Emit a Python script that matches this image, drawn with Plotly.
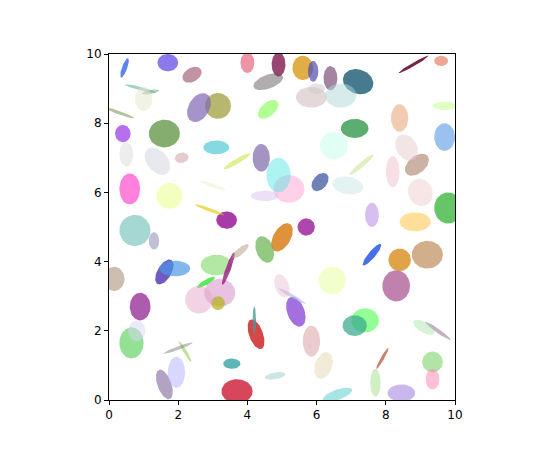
import numpy as np
import plotly.graph_objects as go

# ellipse centres, sizes (data units), angles (deg), colours (r, g, b, alpha)
cx = [9.8, 0.75, 7.2, 3.7, 5.0, 3.4, 5.7, 1.6, 0.6, 1.75, 1.6, 1.9, 3.1, 3.2, 0.9,
      0.65, 7.4, 7.1, 5.4, 8.3, 8.4, 9.2, 8.85, 4.5, 5.2, 4.9, 4.4, 3.1, 3.15, 2.6,
      7.1, 8.4, 9.7, 0.4, 5.85, 4.6, 4.9, 5.6, 6.4, 1.7, 4.0, 4.6, 9.35, 4.25, 3.55,
      8.45, 1.6, 1.95, 7.6, 7.6, 6.45, 5.85, 3.45, 2.8, 3.15, 2.6, 9.35, 6.6, 0.15,
      9.7, 0.45, 8.8, 9.6, 6.7, 6.5, 2.9, 1.2, 5.3, 8.9, 2.2, 0.9, 6.1, 3.7, 9.5,
      1.4, 4.2, 7.9, 2.1, 5.9, 0.3,
      1.0, 2.4, 4.5, 5.0, 6.9, 8.6, 9.1, 7.7, 3.8, 0.5, 2.0, 6.2, 8.2, 4.8, 1.3,
      3.0, 6.0, 9.0, 7.3, 0.8]
cy = [5.55, 4.9, 9.2, 0.25, 4.7, 5.2, 5.0, 7.7, 6.1, 5.9, 3.7, 3.8, 3.9, 3.1, 2.7,
      1.65, 2.3, 2.15, 2.55, 3.3, 4.05, 4.2, 5.15, 4.35, 6.1, 6.5, 7.0, 7.3, 8.5, 8.45,
      7.85, 8.15, 7.6, 7.7, 8.75, 8.4, 9.7, 9.6, 9.3, 9.75, 9.75, 9.2, 1.1, 1.9, 1.05,
      0.2, 0.45, 0.8, 4.2, 5.35, 3.45, 1.7, 3.8, 3.4, 2.8, 2.9, 0.6, 0.15, 3.5,
      8.5, 9.6, 9.7, 9.8, 8.8, 7.35, 5.5, 8.9, 3.0, 6.8, 1.4, 9.0, 6.3, 6.9, 2.0,
      6.9, 2.3, 1.2, 7.0, 9.5, 8.3,
      8.7, 9.4, 5.9, 3.3, 6.2, 7.3, 2.1, 0.5, 4.3, 7.1, 1.5, 1.0, 6.6, 0.7, 4.6,
      6.2, 9.0, 6.0, 6.8, 2.0]
w = [0.8, 0.9, 0.9, 0.9, 0.5, 0.6, 0.5, 0.9, 0.6, 0.75, 0.4, 0.9, 0.9, 0.9, 0.6,
     0.7, 0.8, 0.7, 0.5, 0.8, 0.65, 0.9, 0.9, 0.5, 0.9, 0.7, 0.5, 0.75, 0.75, 0.6,
     0.8, 0.5, 0.6, 0.45, 0.9, 0.7, 0.4, 0.6, 0.4, 0.6, 0.4, 0.9, 0.6, 0.4, 0.5,
     0.8, 0.4, 0.5, 0.2, 0.4, 0.8, 0.5, 0.15, 0.6, 0.4, 0.8, 0.4, 0.9, 0.6,
     0.7, 0.15, 1.0, 0.4, 0.9, 0.8, 0.9, 0.5, 0.9, 0.8, 0.7, 0.9, 0.6, 0.9, 0.9,
     0.9, 0.1, 0.7, 0.4, 0.3, 0.9,
     0.5, 0.6, 0.8, 0.4, 0.9, 0.6, 0.7, 0.3, 0.6, 0.4, 0.9, 0.5, 0.4, 0.6, 0.3,
     0.8, 0.5, 0.7, 0.9, 0.5]
h = [0.9, 0.9, 0.7, 0.7, 0.9, 0.5, 0.5, 0.8, 0.9, 0.75, 0.8, 0.45, 0.6, 0.8, 0.8,
     0.9, 0.7, 0.6, 0.9, 0.9, 0.65, 0.8, 0.55, 0.8, 0.8, 1.0, 0.8, 0.4, 0.75, 0.9,
     0.55, 0.8, 0.8, 0.5, 0.6, 0.4, 0.7, 0.7, 0.7, 0.5, 0.6, 0.4, 0.6, 0.9, 0.3,
     0.5, 0.9, 0.9, 0.8, 0.7, 0.8, 0.9, 1.0, 0.15, 0.4, 0.8, 0.6, 0.3, 0.7,
     0.25, 0.6, 0.1, 0.3, 0.7, 0.8, 0.1, 0.12, 0.1, 0.5, 0.1, 0.1, 0.4, 0.15, 0.12,
     0.6, 0.8, 0.1, 0.3, 0.6, 0.1,
     0.7, 0.4, 0.3, 0.7, 0.5, 0.8, 0.3, 0.8, 0.2, 0.7, 0.1, 0.8, 0.9, 0.2, 0.5,
     0.1, 0.3, 0.8, 0.15, 0.6]
angle = [0, 0, -20, 0, -30, 0, 0, 0, 0, 0, -30, 0, 0, 0, 0,
         0, 0, 0, 20, 0, 0, 0, 0, 20, 0, 0, 0, 0, 0, -30,
         0, 0, 0, 0, 0, 40, 0, 0, 0, 0, 0, 20, 0, 20, 0,
         0, 20, 0, -40, 0, 0, 0, -20, 30, 0, 0, 0, 20, 0,
         0, -20, 30, 0, 0, 0, -20, 10, -30, 40, -60, -15, 50, 30, -35,
         -50, 0, 60, 10, 0, -20,
         0, 30, 0, 20, -10, 30, -30, 0, 40, 0, 20, -20, 0, 10, 0,
         -20, 0, 20, 40, 0]
colors = [
    (0.2, 0.7, 0.2, 0.75), (0.3, 0.7, 0.65, 0.5), (0.1, 0.35, 0.45, 0.8), (0.8, 0.1, 0.2, 0.8),
    (0.85, 0.5, 0.1, 0.85), (0.6, 0.1, 0.6, 0.85), (0.6, 0.1, 0.6, 0.8), (0.4, 0.6, 0.3, 0.8),
    (1.0, 0.3, 0.8, 0.7), (0.9, 1.0, 0.5, 0.5), (0.3, 0.2, 0.7, 0.8), (0.3, 0.6, 0.9, 0.7),
    (0.5, 0.85, 0.4, 0.6), (0.85, 0.6, 0.8, 0.6), (0.6, 0.2, 0.6, 0.8), (0.3, 0.8, 0.3, 0.6),
    (0.3, 1.0, 0.3, 0.6), (0.2, 0.65, 0.55, 0.7), (0.55, 0.3, 0.85, 0.8), (0.65, 0.3, 0.55, 0.7),
    (0.85, 0.55, 0.1, 0.8), (0.75, 0.55, 0.35, 0.7), (1.0, 0.75, 0.2, 0.5), (0.4, 0.7, 0.3, 0.7),
    (1.0, 0.6, 0.8, 0.45), (0.3, 0.9, 0.9, 0.45), (0.4, 0.3, 0.6, 0.6), (0.2, 0.75, 0.8, 0.6),
    (0.6, 0.6, 0.2, 0.7), (0.5, 0.4, 0.7, 0.7), (0.2, 0.6, 0.3, 0.8), (0.9, 0.6, 0.4, 0.5),
    (0.35, 0.6, 0.9, 0.6), (0.6, 0.2, 0.9, 0.7), (0.8, 0.7, 0.7, 0.5), (0.5, 1.0, 0.3, 0.6),
    (0.5, 0.1, 0.3, 0.8), (0.85, 0.6, 0.1, 0.8), (0.4, 0.2, 0.4, 0.6), (0.4, 0.3, 0.9, 0.75),
    (0.9, 0.4, 0.5, 0.7), (0.4, 0.35, 0.35, 0.5), (0.4, 0.8, 0.3, 0.5), (0.8, 0.1, 0.1, 0.8),
    (0.1, 0.6, 0.6, 0.7), (0.7, 0.6, 0.9, 0.7), (0.5, 0.4, 0.6, 0.6), (0.7, 0.7, 1.0, 0.5),
    (0.1, 0.3, 0.9, 0.8), (0.7, 0.5, 0.9, 0.5), (0.9, 1.0, 0.6, 0.5), (0.8, 0.5, 0.5, 0.4),
    (0.6, 0.1, 0.5, 0.8), (0.2, 0.9, 0.2, 0.8), (0.7, 0.7, 0.1, 0.7), (0.9, 0.65, 0.8, 0.5),
    (1.0, 0.5, 0.7, 0.5), (0.3, 0.8, 0.8, 0.5), (0.6, 0.5, 0.4, 0.5), (0.8, 1.0, 0.6, 0.6),
    (0.2, 0.4, 0.9, 0.8), (0.4, 0.05, 0.2, 0.9), (0.9, 0.5, 0.4, 0.7), (0.7, 0.85, 0.85, 0.5),
    (0.7, 1.0, 0.9, 0.4), (0.9, 0.8, 0.1, 0.7), (0.5, 0.7, 0.5, 0.6), (0.7, 0.7, 0.9, 0.6),
    (0.6, 0.4, 0.3, 0.5), (0.6, 0.8, 0.3, 0.6), (0.4, 0.7, 0.6, 0.6), (0.2, 0.3, 0.6, 0.7),
    (0.8, 0.9, 0.3, 0.6), (0.6, 0.5, 0.6, 0.6), (0.85, 0.85, 0.9, 0.6), (0.3, 0.6, 0.6, 0.8),
    (0.7, 0.3, 0.2, 0.7), (0.8, 0.6, 0.6, 0.5), (0.3, 0.3, 0.7, 0.7), (0.5, 0.6, 0.4, 0.6),
    (0.9, 0.9, 0.8, 0.5), (0.6, 0.3, 0.4, 0.6), (0.8, 0.7, 0.9, 0.4), (0.9, 0.7, 0.8, 0.4),
    (0.8, 0.9, 0.9, 0.5), (0.9, 0.8, 0.8, 0.5), (0.7, 0.9, 0.7, 0.5), (0.7, 0.9, 0.6, 0.6),
    (0.7, 0.6, 0.5, 0.5), (0.9, 0.9, 0.9, 0.7), (0.5, 0.5, 0.5, 0.5), (0.9, 0.85, 0.7, 0.5),
    (0.95, 0.75, 0.8, 0.5), (0.6, 0.8, 0.8, 0.5), (0.5, 0.5, 0.7, 0.5), (0.9, 0.95, 0.8, 0.5),
    (0.8, 0.8, 0.8, 0.5), (0.95, 0.8, 0.8, 0.5), (0.8, 0.9, 0.6, 0.6), (0.85, 0.85, 0.95, 0.5),
]
tick_vals = [0, 2, 4, 6, 8, 10]


def ellipse_path(x0, y0, width, height, deg, n=60):
    t = np.linspace(0, 2 * np.pi, n)
    a = np.deg2rad(deg)
    ex = width / 2 * np.cos(t)
    ey = height / 2 * np.sin(t)
    return x0 + ex * np.cos(a) - ey * np.sin(a), y0 + ex * np.sin(a) + ey * np.cos(a)


fig = go.Figure()
for i in range(len(cx)):
    xs, ys = ellipse_path(cx[i], cy[i], w[i], h[i], angle[i])
    r, g, b, alpha = colors[i]
    fig.add_trace(go.Scatter(
        x=xs, y=ys, mode="lines", fill="toself", line={"width": 0},
        fillcolor=f"rgba({int(r*255)},{int(g*255)},{int(b*255)},{alpha})",
        hoverinfo="skip", showlegend=False,
    ))

axis = dict(range=[0, 10], tickvals=tick_vals, showgrid=False, zeroline=False,
            showline=True, linecolor="black", linewidth=1, mirror=True,
            ticks="outside", ticklen=4, tickcolor="black")
fig.update_layout(
    width=550, height=450,
    margin={"l": 101, "r": 103, "t": 46, "b": 58},
    plot_bgcolor="white", paper_bgcolor="white",
    font={"family": "DejaVu Sans", "size": 12, "color": "black"},
    xaxis=axis, yaxis=axis,
)
fig.write_html("out.html")
